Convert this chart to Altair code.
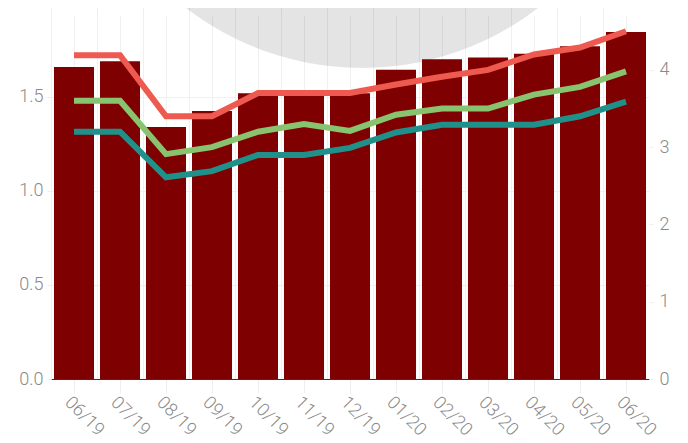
import altair as alt
import pandas as pd

months = ["06/19", "07/19", "08/19", "09/19", "10/19", "11/19", "12/19",
          "01/20", "02/20", "03/20", "04/20", "05/20", "06/20"]
bar_values = [1.66, 1.69, 1.34, 1.425, 1.52, 1.51, 1.52,
              1.645, 1.70, 1.71, 1.73, 1.77, 1.846]
line_max = [4.19, 4.19, 3.40, 3.40, 3.70, 3.70, 3.70,
            3.81, 3.91, 4.00, 4.20, 4.29, 4.50]
line_mid = [3.60, 3.60, 2.91, 3.00, 3.20, 3.30, 3.21,
            3.42, 3.50, 3.50, 3.68, 3.78, 3.98]
line_min = [3.20, 3.20, 2.61, 2.69, 2.90, 2.90, 2.99,
            3.19, 3.29, 3.29, 3.29, 3.40, 3.59]
series_names = ["max", "medie", "min"]
series_colors = ["#ee5a50", "#88c470", "#1f918a"]

bars_df = pd.DataFrame({"luna": months, "valoare": bar_values})
lines_df = pd.DataFrame({
    "luna": months * 3,
    "serie": [series_names[0]] * 13 + [series_names[1]] * 13 + [series_names[2]] * 13,
    "valoare": line_max + line_mid + line_min,
})
circle_df = pd.DataFrame({"k": [0]})

FONT = "Roboto"
LABEL_COLOR = "#8a8a8a"
W, H = 598, 364

xscale = alt.Scale(domain=months, paddingInner=0, paddingOuter=0)

# decorative grey disc in the background (Vega circle: size = diameter^2)
circle = alt.Chart(circle_df).mark_point(
    filled=True, shape="circle", color="black", opacity=0.105,
    size=576 ** 2, strokeWidth=0,
).encode(x=alt.value(311), y=alt.value(-235))

bars = alt.Chart(bars_df).mark_bar(
    color="#7f0000", width=alt.RelativeBandSize(0.87)
).encode(
    x=alt.X("luna:N", sort=months, scale=xscale, title=None,
            axis=alt.Axis(labelAngle=45, labelAlign="left", labelBaseline="top",
                          labelFontSize=18, labelColor=LABEL_COLOR, labelFont=FONT,
                          labelFontWeight=300, labelPadding=0,
                          tickSize=14, tickColor="#eeeeee",
                          domainColor="#333333", domainWidth=1.2,
                          grid=True, gridColor="#f0f0f0", bandPosition=0.5)),
    y=alt.Y("valoare:Q", title=None,
            scale=alt.Scale(domain=[0, 1.936], nice=False, zero=True),
            axis=alt.Axis(values=[0, 0.5, 1.0, 1.5], format=".1f", orient="left",
                          labelFontSize=18, labelColor=LABEL_COLOR, labelFont=FONT,
                          labelFontWeight=300, labelPadding=4,
                          tickSize=4, tickColor="#eeeeee", domain=False,
                          grid=True, gridColor="#f0f0f0")),
)

lines = alt.Chart(lines_df).mark_line(strokeWidth=6).encode(
    x=alt.X("luna:N", sort=months, scale=xscale, title=None,
            axis=alt.Axis(labels=False, domain=False, ticks=True, tickSize=14,
                          tickColor="#eeeeee", grid=True, gridColor="#f0f0f0",
                          bandPosition=0)),
    y=alt.Y("valoare:Q", title=None,
            scale=alt.Scale(domain=[0, 4.71], nice=False, zero=True),
            axis=alt.Axis(values=[0, 1, 2, 3, 4], format="d", orient="right",
                          labelFontSize=18, labelColor=LABEL_COLOR, labelFont=FONT,
                          labelFontWeight=300, labelPadding=6,
                          tickSize=4, tickColor="#eeeeee", domain=False, grid=False)),
    color=alt.Color("serie:N", scale=alt.Scale(domain=series_names, range=series_colors),
                    legend=None),
    detail="serie:N",
)

chart = alt.layer(circle, bars, lines).resolve_scale(
    y="independent"
).resolve_axis(
    x="independent", y="independent"
).properties(
    width=W, height=H,
    autosize=alt.AutoSizeParams(type="none"),
    padding={"left": 43, "top": 7, "right": 31, "bottom": 58},
).configure_view(stroke=None)

chart.save("out.html", embed_options={"renderer": "svg", "actions": False})
